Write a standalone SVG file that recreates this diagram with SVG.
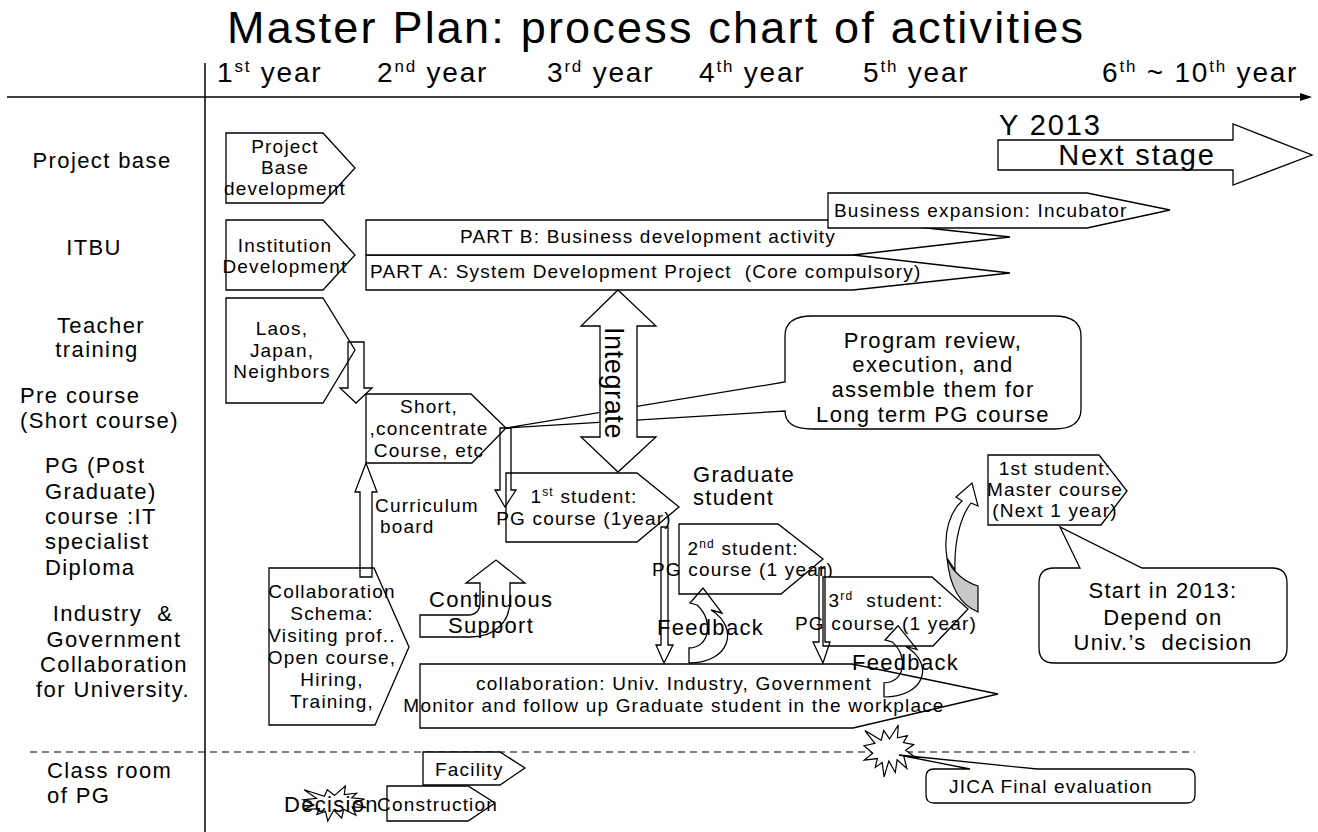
<svg xmlns="http://www.w3.org/2000/svg" xmlns:xlink="http://www.w3.org/1999/xlink" width="1318" height="832" viewBox="0 0 1318 832">
  <style>
    text { font-family: "Liberation Sans", Arial, sans-serif; fill: #000; }
    .title { font-size: 45px; letter-spacing: 2.2px; }
    .yr { font-size: 28px; letter-spacing: 1.8px; }
    .lab { font-size: 22px; letter-spacing: 1.4px; }
    .t { font-size: 19px; letter-spacing: 1.2px; }
    .big { font-size: 22px; letter-spacing: 1.3px; }
    .huge { font-size: 29px; letter-spacing: 1.9px; }
    .box { fill: #fff; stroke: #000; stroke-width: 1.3; stroke-linejoin: miter; }
    .arr { fill: none; stroke: #000; stroke-width: 1.3; }
    .warr { fill: #fff; stroke: #000; stroke-width: 1.3; }
    .axis { stroke: #000; stroke-width: 1.5; fill: none; }
  </style>
  <defs>
    <!-- irregular explosion outline in a 216 x 216 box -->
    <polygon id="seal" points="108,58 145.22,0 141.55,53.25 183.8,44.57 167.02,73.15 210.97,81.37 176.07,104.75 216,132.9 168.37,129.42 181.45,180.95 140.2,144.57 132.47,197.37 105.32,149.35 84.85,216 77.15,156.27 47.62,176.17 56.67,139.37 1.35,145.87 37.22,117.75 0,86.15 46.27,76.17 3.7,22.95 73.12,63.2 83.52,22.95" fill="#fff" stroke="#000" stroke-width="1.2" vector-effect="non-scaling-stroke"/>
    <!-- curved feedback arrow, tail at origin -->
    <path id="fb" d="M0,0 C41,0 51,-35 22,-53 L33,-50 L14,-75 L1,-60 L8,-58 C25,-43 21,-15 0,-15 Z" fill="none" stroke="#000" stroke-width="1.3"/>
  </defs>

  <!-- heading and time axis -->
  <g id="header">
    <text class="title" x="227" y="43">Master Plan: process chart of activities</text>
    <text class="yr" x="217" y="82">1<tspan font-size="17" dy="-10">st</tspan><tspan dy="10"> year</tspan></text>
    <text class="yr" x="377" y="82">2<tspan font-size="17" dy="-10">nd</tspan><tspan dy="10"> year</tspan></text>
    <text class="yr" x="547" y="82">3<tspan font-size="17" dy="-10">rd</tspan><tspan dy="10"> year</tspan></text>
    <text class="yr" x="699" y="82">4<tspan font-size="17" dy="-10">th</tspan><tspan dy="10"> year</tspan></text>
    <text class="yr" x="863" y="82">5<tspan font-size="17" dy="-10">th</tspan><tspan dy="10"> year</tspan></text>
    <text class="yr" x="1102" y="82">6<tspan font-size="17" dy="-10">th</tspan><tspan dy="10"> ~ 10</tspan><tspan font-size="17" dy="-10">th</tspan><tspan dy="10"> year</tspan></text>
    <line class="axis" x1="7" y1="97" x2="1302" y2="97"/>
    <polygon points="1312,97 1300,93 1300,101" fill="#000"/>
    <line class="axis" x1="205" y1="63" x2="205" y2="832" stroke-width="1.3"/>
    <line x1="30" y1="752" x2="1195" y2="752" stroke="#000" stroke-width="1.2" stroke-dasharray="7 5"/>
  </g>

  <!-- row labels -->
  <g id="row-labels">
    <text class="lab" x="102" y="168" text-anchor="middle">Project base</text>
    <text class="lab" x="94" y="255" text-anchor="middle">ITBU</text>
    <text class="lab" x="101" y="333" text-anchor="middle">Teacher</text>
    <text class="lab" x="97" y="357" text-anchor="middle">training</text>
    <text class="lab" x="20" y="403">Pre course</text>
    <text class="lab" x="20" y="428">(Short course)</text>
    <text class="lab" x="45" y="473">PG (Post</text>
    <text class="lab" x="45" y="499">Graduate)</text>
    <text class="lab" x="45" y="524">course :IT</text>
    <text class="lab" x="45" y="549">specialist</text>
    <text class="lab" x="45" y="575">Diploma</text>
    <text class="lab" x="113" y="621" text-anchor="middle" xml:space="preserve">Industry  &amp;</text>
    <text class="lab" x="114" y="647" text-anchor="middle">Government</text>
    <text class="lab" x="114" y="672" text-anchor="middle">Collaboration</text>
    <text class="lab" x="113" y="697" text-anchor="middle">for University.</text>
    <text class="lab" x="47" y="778">Class room</text>
    <text class="lab" x="47" y="803">of PG</text>
  </g>

  <g id="nodes">
    <g id="project-base">
      <polygon class="box" points="226,133 323,133 355,168 323,203 226,203"/>
      <text class="t" x="285" y="153" text-anchor="middle">Project</text>
      <text class="t" x="285" y="174" text-anchor="middle">Base</text>
      <text class="t" x="285" y="195" text-anchor="middle">development</text>
    </g>
    <g id="institution">
      <polygon class="box" points="226,220 323,220 355,255 323,290 226,290"/>
      <text class="t" x="285" y="252" text-anchor="middle">Institution</text>
      <text class="t" x="285" y="273" text-anchor="middle">Development</text>
    </g>
    <g id="teacher-training">
      <polygon class="box" points="226,298 323,298 355,350 323,403 226,403"/>
      <text class="t" x="282" y="335" text-anchor="middle">Laos,</text>
      <text class="t" x="282" y="357" text-anchor="middle">Japan,</text>
      <text class="t" x="282" y="378" text-anchor="middle">Neighbors</text>
    </g>
    <g id="part-a">
      <polygon class="box" points="366,255 853,255 1010,273 853,290 366,290"/>
      <text class="t" x="370" y="278" xml:space="preserve">PART A: System Development Project  (Core compulsory)</text>
    </g>
    <g id="part-b">
      <polygon class="box" points="366,220 853,220 1010,237 853,255 366,255"/>
      <text class="t" x="648" y="243" text-anchor="middle">PART B: Business development activity</text>
    </g>
    <g id="incubator">
      <polygon class="box" points="828,193 1087,193 1170,210 1087,228 828,228"/>
      <text class="t" x="834" y="217">Business expansion: Incubator</text>
    </g>
    <g id="next-stage">
      <polygon class="box" points="998,140 1233,140 1233,124 1312,155 1233,185 1233,170 998,170"/>
      <text class="huge" x="999" y="135">Y 2013</text>
      <text class="huge" x="1137" y="165" text-anchor="middle">Next stage</text>
    </g>
    <g id="short-course">
      <polygon class="box" points="366,394 471,394 506,428 472,463 366,463"/>
      <text class="t" x="429" y="413" text-anchor="middle">Short,</text>
      <text class="t" x="429" y="435" text-anchor="middle">,concentrate</text>
      <text class="t" x="429" y="457" text-anchor="middle">Course, etc</text>
    </g>
    <g id="program-review">
      <path class="box" d="M812,316 L1054,316 Q1081,316 1081,336 L1081,409 Q1081,429 1054,429 L812,429 Q785,429 785,411 L506,428 L785,382 L785,336 Q785,316 812,316 Z"/>
      <text class="big" x="933" y="348" text-anchor="middle">Program review,</text>
      <text class="big" x="933" y="372" text-anchor="middle">execution, and</text>
      <text class="big" x="933" y="397" text-anchor="middle">assemble them for</text>
      <text class="big" x="933" y="422" text-anchor="middle">Long term PG course</text>
    </g>
    <g id="student-1">
      <polygon class="box" points="506,473 637,473 679,507 637,542 506,542"/>
      <text class="t" x="584" y="503" text-anchor="middle">1<tspan font-size="12" dy="-7">st</tspan><tspan dy="7"> student:</tspan></text>
      <text class="t" x="584" y="525" text-anchor="middle">PG course (1year)</text>
    </g>
    <g id="graduate-label">
      <text class="big" x="693" y="482">Graduate</text>
      <text class="big" x="693" y="505">student</text>
    </g>
    <g id="student-2">
      <polygon class="box" points="679,524 778,524 823,559 781,594 679,594"/>
      <text class="t" x="743" y="555" text-anchor="middle">2<tspan font-size="12" dy="-7">nd</tspan><tspan dy="7"> student:</tspan></text>
      <text class="t" x="743" y="576" text-anchor="middle">PG course (1 year)</text>
    </g>
    <g id="student-3">
      <polygon class="box" points="823,577 932,577 968,609 933,646 823,646"/>
      <text class="t" x="886" y="607" text-anchor="middle" xml:space="preserve">3<tspan font-size="12" dy="-7">rd</tspan><tspan dy="7">  student:</tspan></text>
      <text class="t" x="886" y="630" text-anchor="middle">PG course (1 year)</text>
    </g>
    <g id="master-course">
      <polygon class="box" points="988,455 1099,455 1127,491 1101,525 988,525"/>
      <text class="t" x="1055" y="475" text-anchor="middle">1st student:</text>
      <text class="t" x="1055" y="496" text-anchor="middle">Master course</text>
      <text class="t" x="1055" y="517" text-anchor="middle">(Next 1 year)</text>
    </g>
    <g id="start-2013">
      <path class="box" d="M1054,568 L1080,568 L1060,527 L1142,568 L1272,568 Q1287,568 1287,583 L1287,648 Q1287,663 1272,663 L1054,663 Q1039,663 1039,648 L1039,583 Q1039,568 1054,568 Z"/>
      <text class="big" x="1163" y="598" text-anchor="middle">Start in 2013:</text>
      <text class="big" x="1163" y="625" text-anchor="middle">Depend on</text>
      <text class="big" x="1163" y="650" text-anchor="middle" xml:space="preserve">Univ.’s  decision</text>
    </g>
    <g id="collab-schema">
      <polygon class="box" points="269,568 374,568 409,647 375,725 269,725"/>
      <text class="t" x="332" y="598" text-anchor="middle">Collaboration</text>
      <text class="t" x="332" y="620" text-anchor="middle">Schema:</text>
      <text class="t" x="332" y="642" text-anchor="middle">Visiting prof..</text>
      <text class="t" x="332" y="664" text-anchor="middle">Open course,</text>
      <text class="t" x="332" y="686" text-anchor="middle">Hiring,</text>
      <text class="t" x="332" y="708" text-anchor="middle">Training,</text>
    </g>
    <g id="collaboration">
      <polygon class="box" points="420,664 852,664 998,694 853,728 420,728"/>
      <text class="t" x="674" y="690" text-anchor="middle">collaboration: Univ. Industry, Government</text>
      <text class="t" x="674" y="712" text-anchor="middle">Monitor and follow up Graduate student in the workplace</text>
    </g>
    <g id="facility">
      <polygon class="box" points="423,752 500,752 525,768 500,785 423,785"/>
      <text class="t" x="435" y="776">Facility</text>
    </g>
    <g id="construction">
      <polygon class="box" points="387,786 468,786 495,803 468,821 387,821"/>
      <text class="t" x="377" y="811">Construction</text>
    </g>
    <g id="decision">
      <use xlink:href="#seal" transform="translate(303,786) scale(0.2917,0.162)"/>
      <text class="big" x="284" y="812">Decision</text>
    </g>
    <g id="jica">
      <use xlink:href="#seal" transform="translate(864,725) scale(0.2361,0.2407)"/>
      <path class="box" d="M934,769 L970,769 L899,755 L1037,769 L1187,769 Q1195,769 1195,777 L1195,795 Q1195,803 1187,803 L934,803 Q926,803 926,795 L926,777 Q926,769 934,769 Z"/>
      <text class="t" x="949" y="793">JICA Final evaluation</text>
    </g>
  </g>

  <g id="connectors">
    <!-- teacher training down to short course -->
    <polygon class="arr" points="348,342 364,342 364,388 372,388 356,403 340,388 348,388"/>
    <!-- curriculum board up to short course -->
    <polygon class="arr" points="360,577 372,577 372,492 377,492 366,463 355,492 360,492"/>
    <text class="t" x="375" y="512">Curriculum</text>
    <text class="t" x="380" y="533">board</text>
    <!-- short course down to 1st student -->
    <polygon class="arr" points="500,428 511,428 511,490 516,490 505,507 495,490 500,490"/>
    <!-- integrate double arrow -->
    <polygon class="warr" points="618,290 656,326 637,326 637,437 656,437 618,472 581,437 600,437 600,326 581,326"/>
    <text transform="translate(605,383) rotate(90)" text-anchor="middle" style="font-size:27px;letter-spacing:0.6px">Integrate</text>
    <!-- continuous support -->
    <path class="warr" d="M420,615 L468,615 C476,615 480,610 480,602 L480,583 L466,583 L496,560 L525,583 L510,583 L510,600 C510,622 495,637 470,637 L420,637 Z"/>
    <text class="big" x="429" y="607">Continuous</text>
    <text class="big" x="448" y="633">Support</text>
    <!-- students down to workplace follow-up -->
    <polygon class="arr" points="661,527 668,527 668,645 673,645 664,663 656,645 661,645"/>
    <polygon class="arr" points="819,568 825,568 825,642 830,642 823,663 813,642 819,642"/>
    <!-- feedback loops -->
    <use xlink:href="#fb" transform="translate(689,663)"/>
    <text class="big" x="657" y="635">Feedback</text>
    <use xlink:href="#fb" transform="translate(884,697) scale(1,0.95)"/>
    <text class="big" x="852" y="670">Feedback</text>
    <!-- 3rd student on to master course -->
    <path d="M947,558 C950,590 963,606 978,612 L978,586 C965,582 952,572 947,558 Z" fill="#c8c8c8" stroke="#000" stroke-width="1.2"/>
    <path d="M947,558 C943,532 950,512 962,501 L956,497 L972,483 L978,506 L971,503 C961,516 954,540 955,570 Z" fill="#fff" stroke="#000" stroke-width="1.2"/>
  </g>
</svg>
